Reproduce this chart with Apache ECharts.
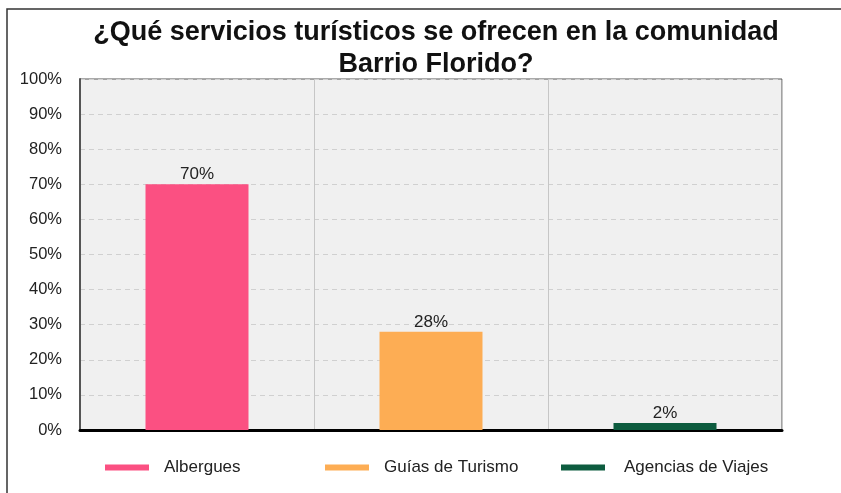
<!DOCTYPE html>
<html>
<head>
<meta charset="utf-8">
<script src="https://cdn.jsdelivr.net/npm/echarts@6/dist/echarts.min.js"></script>
<style>
  html, body { margin: 0; padding: 0; background: #fff; }
  #chart { width: 841px; height: 493px; }
</style>
</head>
<body>
<div id="chart"></div>
<script>
// datos del gráfico
var titulo = '¿Qué servicios turísticos se ofrecen en la comunidad\nBarrio Florido?';
var servicios = ['Albergues', 'Guías de Turismo', 'Agencias de Viajes'];
var porcentajes = [70, 28, 2];
var colores = ['#fb5082', '#fdad54', '#0d5c3f'];
var yTicks = [0, 10, 20, 30, 40, 50, 60, 70, 80, 90, 100];

var chart = echarts.init(document.getElementById('chart'));

// una serie por servicio, para que cada una salga en la leyenda
var series = servicios.map(function (nombre, i) {
  var data = servicios.map(function (_, j) { return j === i ? porcentajes[i] : '-'; });
  return {
    name: nombre,
    type: 'bar',
    data: data,
    barWidth: 103,
    barGap: '-100%',
    itemStyle: { color: colores[i] },
    label: {
      show: true,
      position: 'top',
      distance: 1,
      formatter: '{c}%',
      color: '#222',
      fontSize: 17,
      fontFamily: 'Liberation Sans'
    }
  };
});

// leyendas separadas para colocar cada elemento
var legendLeft = [100, 320, 556];
var legends = servicios.map(function (nombre, i) {
  return {
    data: [nombre],
    left: legendLeft[i],
    top: 454,
    icon: 'rect',
    itemWidth: 44,
    itemHeight: 6,
    itemGap: 0,
    textStyle: { color: '#222', fontSize: 17, fontFamily: 'Liberation Sans', padding: [0, 0, 0, i === 2 ? 14 : 10] }
  };
});

var option = {
  backgroundColor: '#fff',
  animation: false,
  title: {
    text: titulo,
    left: 431,
    textAlign: 'center',
    top: 12,
    textStyle: {
      fontFamily: 'Liberation Sans',
      fontSize: 27,
      fontWeight: 'bold',
      color: '#111',
      lineHeight: 32
    }
  },
  legend: legends,
  grid: {
    left: 80,
    right: 59,
    top: 79,
    bottom: 63,
    show: true,
    backgroundColor: '#f0f0f0',
    borderColor: '#555',
    borderWidth: 1
  },
  xAxis: {
    type: 'category',
    data: servicios,
    axisLabel: { show: false },
    axisTick: { show: false },
    axisLine: { show: true, lineStyle: { color: '#000', width: 3 } },
    splitLine: { show: true, lineStyle: { color: '#c6c6c6', width: 1 } }
  },
  yAxis: {
    type: 'value',
    min: yTicks[0],
    max: yTicks[yTicks.length - 1],
    interval: 10,
    axisLine: { show: true, lineStyle: { color: '#555', width: 2 } },
    axisTick: { show: false },
    axisLabel: {
      formatter: '{value}%',
      color: '#222',
      fontSize: 16.5,
      fontFamily: 'Liberation Sans',
      margin: 18
    },
    splitLine: { show: true, lineStyle: { color: '#d0d0d0', type: [5, 4] } }
  },
  graphic: [{
    type: 'rect',
    shape: { x: 7, y: 9, width: 900, height: 600 },
    style: { fill: 'none', stroke: '#333', lineWidth: 1.5 },
    silent: true
  }],
  series: series
};

chart.setOption(option);
</script>
</body>
</html>
